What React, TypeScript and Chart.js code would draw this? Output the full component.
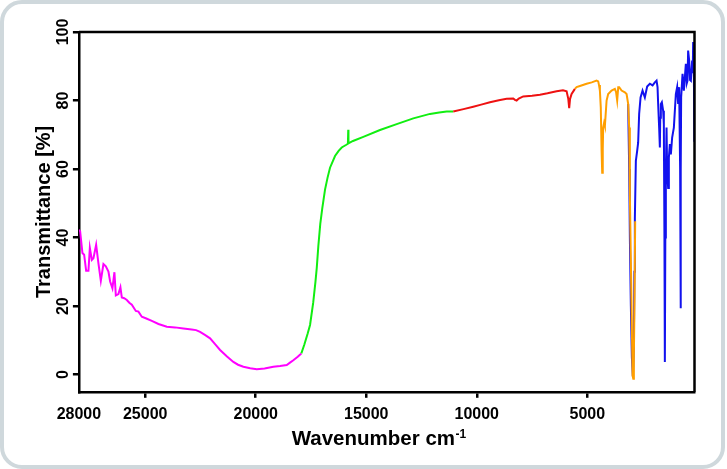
import React, { useEffect, useRef } from "react";
import { Chart, registerables } from "chart.js";

Chart.register(...registerables);

const FONT = '"Liberation Sans", Arial, Helvetica, sans-serif';

// Wavenumber ticks (cm-1) and transmittance ticks (%)
const xTickValues = [28000, 25000, 20000, 15000, 10000, 5000];
const yTickValues = [0, 20, 40, 60, 80, 100];

// Segment 1 (magenta)
const magentaX = [28000, 27944, 27840, 27763, 27672, 27568, 27505, 27415, 27342, 27220, 27116, 27008, 26890, 26782, 26664, 26587, 26483, 26393, 26329, 26212, 26121, 26058, 25950, 25832, 25720, 25606, 25425, 25307, 25154, 24950, 24702, 24400, 24023, 23650, 23273, 22900, 22700, 22518, 22300, 22065, 21850, 21613, 21300, 21012, 20800, 20560, 20250, 19954, 19600, 19203, 18900, 18597, 18450, 18299, 18100, 17937];
const magentaY = [42.3, 41.8, 35.5, 35.0, 30.3, 30.3, 37.0, 33.5, 34.0, 37.9, 32.5, 27.4, 32.3, 31.6, 30.1, 27.2, 25.2, 29.9, 23.1, 23.5, 25.5, 22.5, 22.3, 21.8, 21.0, 20.4, 18.6, 18.4, 16.9, 16.4, 15.7, 14.8, 14.0, 13.8, 13.5, 13.2, 13.0, 12.5, 11.6, 10.6, 9.0, 7.2, 5.3, 3.7, 2.9, 2.3, 1.9, 1.6, 1.8, 2.3, 2.5, 2.8, 3.5, 4.2, 5.2, 6.2];

// Segment 2 (green)
const greenX = [17937, 17800, 17650, 17543, 17400, 17300, 17240, 17168, 17080, 16990, 16865, 16750, 16639, 16413, 16250, 16110, 15900, 15830, 15815, 15805, 15600, 15133, 14378, 13623, 12872, 12117, 11700, 11362, 11064];
const greenY = [6.2, 8.8, 12.0, 14.5, 21.0, 27.0, 31.1, 37.5, 44.0, 48.5, 54.0, 57.5, 60.4, 63.8, 65.3, 66.3, 67.1, 67.4, 71.5, 67.5, 68.2, 69.4, 71.4, 73.1, 74.8, 76.1, 76.5, 76.8, 76.8];

// Segment 3 (red)
const redX = [11064, 10600, 10159, 9800, 9404, 9000, 8649, 8350, 8274, 8197, 8100, 7899, 7500, 7143, 6800, 6388, 6100, 5936, 5860, 5819, 5780, 5710, 5561];
const redY = [76.8, 77.5, 78.2, 78.8, 79.5, 80.1, 80.5, 80.6, 80.2, 80.0, 80.6, 81.2, 81.4, 81.7, 82.1, 82.7, 83.0, 82.7, 80.5, 77.8, 80.5, 81.9, 83.4];

// Segment 4 (orange)
const orangeX = [5561, 5484, 5300, 5032, 4800, 4580, 4507, 4470, 4430, 4390, 4353, 4326, 4300, 4281, 4240, 4204, 4127, 4055, 3901, 3752, 3700, 3648, 3600, 3557, 3449, 3300, 3223, 3151, 3105, 3074, 3029, 2983, 2952, 2920, 2893, 2861, 2834];
const orangeY = [83.4, 83.9, 84.3, 84.9, 85.3, 85.8, 85.6, 84.5, 82.9, 78.0, 65.3, 58.9, 66.0, 72.1, 73.5, 72.6, 80.0, 81.9, 82.9, 83.4, 82.5, 80.0, 83.9, 83.9, 82.9, 82.4, 81.9, 79.0, 72.1, 52.6, 33.0, 13.5, -0.2, -1.2, 5.0, 23.3, 44.8];

// Segment 5 (blue)
const blueX = [3151, 3105, 3074, 3029, 2983, 2938, 2893, 2870, 2848, 2803, 2744, 2699, 2654, 2590, 2500, 2396, 2292, 2170, 2047, 1944, 1867, 1822, 1794, 1749, 1717, 1700, 1672, 1627, 1568, 1537, 1510, 1491, 1470, 1446, 1415, 1388, 1342, 1310, 1265, 1220, 1161, 1084, 1039, 994, 935, 890, 844, 800, 781, 765, 754, 691, 632, 541, 500, 465, 438, 392, 350, 315, 257, 230, 211, 180, 157];
const blueY = [79.0, 60.0, 40.0, 20.0, 5.0, -0.5, 8.0, 30.0, 45.7, 62.4, 65.3, 67.7, 76.1, 80.9, 82.9, 80.9, 84.1, 84.9, 84.4, 85.3, 85.8, 83.9, 79.0, 72.1, 66.3, 75.0, 79.0, 79.5, 77.0, 73.1, 40.0, 3.7, 40.0, 59.4, 72.1, 59.4, 54.5, 63.3, 67.3, 64.3, 69.2, 72.1, 77.0, 81.9, 83.9, 79.0, 83.9, 60.0, 19.4, 60.0, 80.9, 87.8, 82.9, 90.7, 85.0, 85.8, 94.6, 91.7, 86.0, 85.8, 91.7, 88.0, 97.1, 89.7, 68.0];

const toPoints = (xs: number[], ys: number[]) => xs.map((x, i) => ({ x, y: ys[i] }));

const framePlugin = {
  id: "frameAndTitle",
  afterDraw(chart: any) {
    const { ctx, chartArea } = chart;
    ctx.save();
    ctx.strokeStyle = "#000";
    ctx.lineWidth = 2.5;
    ctx.beginPath();
    ctx.moveTo(chartArea.left, chartArea.top);
    ctx.lineTo(chartArea.right, chartArea.top);
    ctx.lineTo(chartArea.right, chartArea.bottom);
    ctx.stroke();

    // x-axis title with superscript
    const main = "Wavenumber cm";
    const sup = "-1";
    ctx.fillStyle = "#000";
    ctx.textBaseline = "alphabetic";
    ctx.textAlign = "left";
    ctx.font = `bold 20.5px ${FONT}`;
    const w1 = ctx.measureText(main).width;
    ctx.font = `bold 12px ${FONT}`;
    const w2 = ctx.measureText(sup).width;
    const cx = (chartArea.left + chartArea.right) / 2 - 8;
    const x0 = cx - (w1 + w2) / 2;
    const baseY = chartArea.bottom + 53;
    ctx.font = `bold 20.5px ${FONT}`;
    ctx.fillText(main, x0, baseY);
    ctx.font = `bold 12px ${FONT}`;
    ctx.fillText(sup, x0 + w1 + 0.5, baseY - 7);
    ctx.restore();
  },
};

export default function App() {
  const canvasRef = useRef<HTMLCanvasElement | null>(null);

  useEffect(() => {
    if (!canvasRef.current) return;
    const lineDs = (label: string, xs: number[], ys: number[], color: string) => ({
      label,
      data: toPoints(xs, ys),
      borderColor: color,
      backgroundColor: color,
      borderWidth: 2,
      pointRadius: 0,
      tension: 0,
      fill: false,
    });
    const chart = new Chart(canvasRef.current, {
      type: "line",
      data: {
        datasets: [
          lineDs("Orange", orangeX, orangeY, "#ff9f00"),
          lineDs("Blue", blueX, blueY, "#1212ee"),
          lineDs("Red", redX, redY, "#ee1111"),
          lineDs("Green", greenX, greenY, "#11ee11"),
          lineDs("Magenta", magentaX, magentaY, "#ff00ff"),
        ],
      },
      options: {
        animation: false,
        responsive: false,
        maintainAspectRatio: false,
        layout: { padding: { left: 28, right: 32.5, top: 32, bottom: 38 } },
        plugins: { legend: { display: false }, tooltip: { enabled: false } },
        scales: {
          x: {
            type: "linear",
            reverse: true,
            min: 150,
            max: 28000,
            afterBuildTicks: (s: any) => {
              s.ticks = xTickValues.map((v) => ({ value: v }));
            },
            ticks: {
              autoSkip: false,
              minRotation: 0,
              maxRotation: 0,
              padding: 7,
              color: "#000",
              font: { family: FONT, size: 16, weight: "bold" },
              callback: (v: any) => String(v),
            },
            grid: {
              drawOnChartArea: false,
              tickLength: 6,
              lineWidth: 2.5,
              color: (c: any) => (c.tick && c.tick.value === 28000 ? "rgba(0,0,0,0)" : "#000"),
            },
            border: { display: true, color: "#000", width: 2.5 },
          },
          y: {
            type: "linear",
            min: -5,
            max: 100,
            afterBuildTicks: (s: any) => {
              s.ticks = yTickValues.map((v) => ({ value: v }));
            },
            ticks: {
              autoSkip: false,
              minRotation: 90,
              maxRotation: 90,
              crossAlign: "center",
              padding: -4.15,
              color: "#000",
              font: { family: FONT, size: 16, weight: "bold" },
              callback: (v: any) => String(v),
            },
            title: {
              display: true,
              text: "Transmittance [%]",
              color: "#000",
              font: { family: FONT, size: 20, weight: "bold" },
              padding: { top: 4, bottom: 6 },
            },
            grid: { drawOnChartArea: false, tickLength: 6, lineWidth: 2.5, color: "#000" },
            border: { display: true, color: "#000", width: 2.5 },
          },
        },
      },
      plugins: [framePlugin],
    } as any);
    return () => chart.destroy();
  }, []);

  return (
    <div style={{ position: "absolute", left: 0, top: 0, width: 727, height: 469, background: "#fff" }}>
      <div
        style={{
          position: "absolute",
          left: 0,
          top: 0,
          width: 725,
          height: 469,
          boxSizing: "border-box",
          border: "4px solid #cfd8dc",
          borderRadius: 22,
          background: "#fff",
        }}
      />
      <canvas ref={canvasRef} width={727} height={469} style={{ position: "absolute", left: 0, top: 0 }} />
    </div>
  );
}
